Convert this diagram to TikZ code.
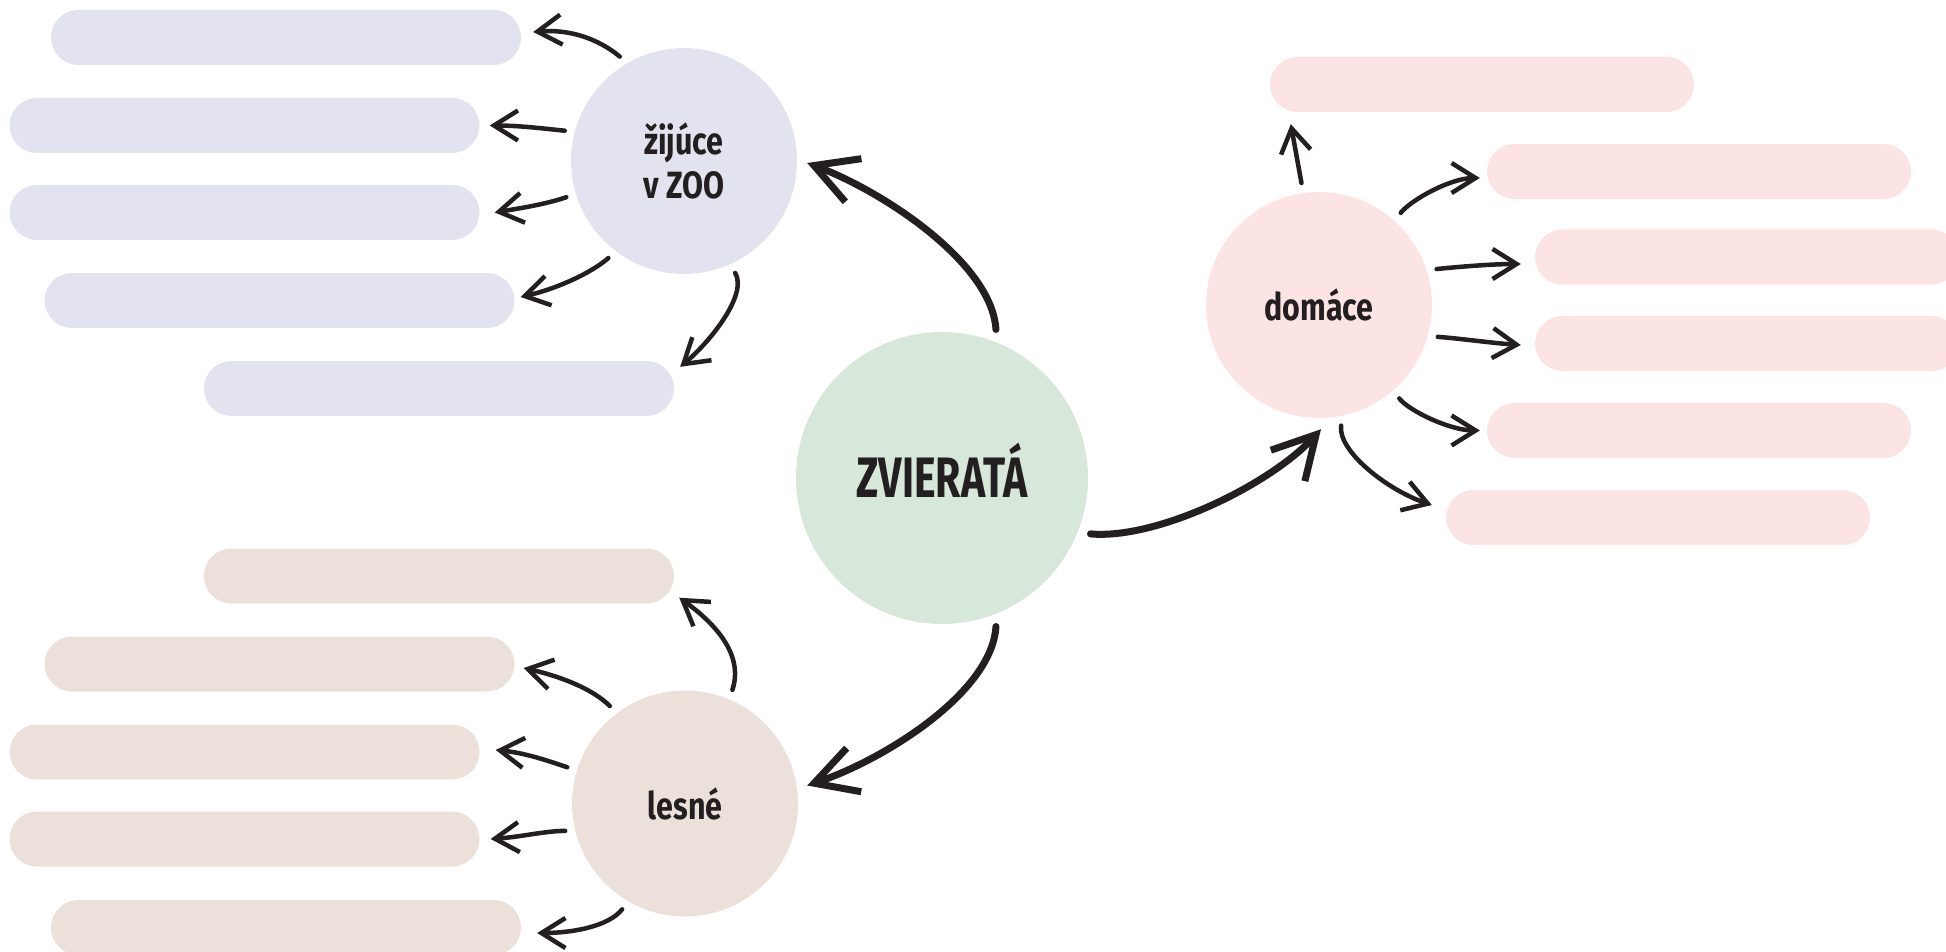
\documentclass[tikz,border=0pt]{standalone}
\usepackage{fontspec}
\setsansfont{Fira Sans}
\usepackage{xcolor}
\usepackage{tikz}
\usetikzlibrary{arrows.meta}
\definecolor{ink}{HTML}{231F20}
\definecolor{midc}{HTML}{D7E8DA}
\definecolor{zooc}{HTML}{E3E3EF}
\definecolor{lesc}{HTML}{EBE1DA}
\definecolor{domc}{HTML}{FCE4E4}
\newcommand{\nar}[1]{\scalebox{0.8}[1]{#1}}
\begin{document}
\begin{tikzpicture}[
  x=1pt,y=-1pt,
  hub/.style={circle,inner sep=0pt,minimum size=226pt,text=ink,align=center,font=\sffamily\bfseries\fontsize{38}{44}\selectfont},
  bar/.style={rectangle,rounded corners=27.5pt,minimum height=55pt,inner sep=0pt},
  a/.style={draw=ink,line width=4.5pt,line cap=round,shorten <=10pt,-{Straight Barb[length=24pt,width=30pt]}},
  aa/.style={draw=ink,line width=7pt,line cap=round,shorten <=13pt,-{Straight Barb[length=42pt,width=46pt]}}
]
\useasboundingbox (0,0) rectangle (1946,952);
\clip (0,0) rectangle (1946,952);
\node[hub,fill=midc,minimum size=292pt,text height=39pt,text depth=0pt,font=\sffamily\bfseries\fontsize{57}{60}\selectfont] (mid) at (942,478) {\scalebox{0.72}[1]{ZVIERATÁ}};
\node[hub,fill=zooc] (zoo) at (684,161) {\nar{žijúce}\\\nar{v ZOO}};
\node[hub,fill=lesc] (les) at (685,803.5) {\nar{lesné}};
\node[hub,fill=domc] (dom) at (1319,305) {\nar{domáce}};
\node[bar,fill=zooc,minimum width=470pt] (z1) at (286,37.5) {};
\node[bar,fill=zooc,minimum width=470pt] (z2) at (244.5,125.5) {};
\node[bar,fill=zooc,minimum width=470pt] (z3) at (244.5,212.5) {};
\node[bar,fill=zooc,minimum width=470pt] (z4) at (279.5,300.5) {};
\node[bar,fill=zooc,minimum width=470pt] (z5) at (439,388.5) {};
\node[bar,fill=lesc,minimum width=470pt] (l1) at (439,576) {};
\node[bar,fill=lesc,minimum width=470pt] (l2) at (279.5,664) {};
\node[bar,fill=lesc,minimum width=470pt] (l3) at (244.5,752) {};
\node[bar,fill=lesc,minimum width=470pt] (l4) at (244.5,839) {};
\node[bar,fill=lesc,minimum width=470pt] (l5) at (286,927.5) {};
\node[bar,fill=domc,minimum width=424pt] (d1) at (1482,84.5) {};
\node[bar,fill=domc,minimum width=424pt] (d2) at (1699,171.5) {};
\node[bar,fill=domc,minimum width=424pt] (d3) at (1747,257) {};
\node[bar,fill=domc,minimum width=424pt] (d4) at (1747,343.5) {};
\node[bar,fill=domc,minimum width=424pt] (d5) at (1699,430.5) {};
\node[bar,fill=domc,minimum width=424pt] (d6) at (1658,517.5) {};
\draw[aa] (mid.68) .. controls +(-5,-80) and +(75,28) .. ([xshift=10pt,yshift=-2pt]zoo.east);
\draw[aa] (mid.-68) .. controls +(-5,80) and +(75,-25) .. ([xshift=9pt,yshift=18pt]les.east);
\draw[aa] (mid.-22) .. controls +(80,7) and +(-50,55) .. ([xshift=2pt,yshift=-11pt]dom.south);
\draw[a] (zoo.120) .. controls +(-30,-25) and +(35,-3) .. ([xshift=12pt,yshift=5.5pt]z1.east);
\draw[a] (zoo.165) .. controls +(-30,-3) and +(30,0) .. ([xshift=10pt]z2.east);
\draw[a] (zoo.197) .. controls +(-30,10) and +(30,-5) .. ([xshift=15pt]z3.east);
\draw[a] (zoo.233) .. controls +(-25,22) and +(35,-8) .. ([xshift=6pt,yshift=3.5pt]z4.east);
\draw[a] (zoo.294) .. controls +(18,30) and +(30,-25) .. ([xshift=6pt,yshift=-6pt]z5.north east);
\draw[a] (les.67) .. controls +(15,-45) and +(35,25) .. ([xshift=5pt,yshift=6pt]l1.south east);
\draw[a] (les.127) .. controls +(-25,-25) and +(35,8) .. ([xshift=9pt,yshift=-4pt]l2.east);
\draw[a] (les.163) .. controls +(-30,-10) and +(30,3) .. ([xshift=16pt,yshift=2pt]l3.east);
\draw[a] (les.194) .. controls +(-30,0) and +(30,-2) .. ([xshift=11pt]l4.east);
\draw[a] (les.240) .. controls +(-20,25) and +(35,0) .. ([xshift=16pt,yshift=-5.5pt]l5.east);
\draw[a] (dom.98) -- ([xshift=21pt,yshift=-12pt]d1.south west);
\draw[a] (dom.48) .. controls +(15,-20) and +(-30,0) .. ([xshift=-7pt,yshift=-6.5pt]d2.west);
\draw[a] (dom.18) .. controls +(30,-3) and +(-30,0) .. ([xshift=-14pt,yshift=-7pt]d3.west);
\draw[a] (dom.-16) .. controls +(30,2) and +(-30,-2) .. ([xshift=-14pt,yshift=-1.5pt]d4.west);
\draw[a] (dom.-49) .. controls +(15,20) and +(-30,0) .. ([xshift=-7pt]d5.west);
\draw[a] (dom.-78) .. controls +(-5,35) and +(-45,-15) .. ([xshift=-14pt,yshift=12.5pt]d6.west);
\end{tikzpicture}
\end{document}
